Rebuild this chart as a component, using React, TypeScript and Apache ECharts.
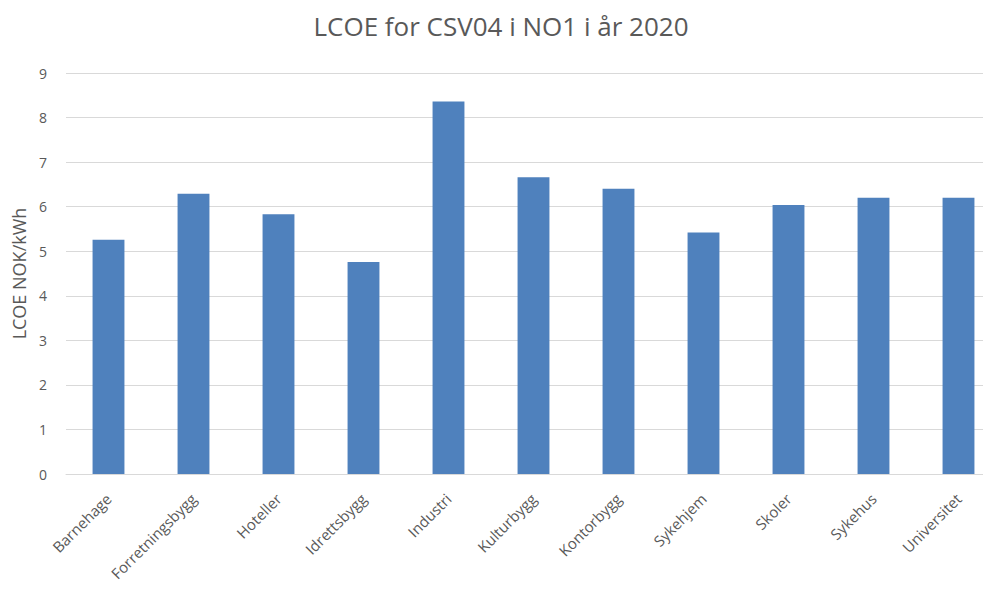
import React, { useEffect, useRef } from "react";
import * as echarts from "echarts";

const categories = [
  "Barnehage",
  "Forretningsbygg",
  "Hoteller",
  "Idrettsbygg",
  "Industri",
  "Kulturbygg",
  "Kontorbygg",
  "Sykehjem",
  "Skoler",
  "Sykehus",
  "Universitet",
];

const lcoeValues = [5.26, 6.29, 5.83, 4.76, 8.36, 6.66, 6.4, 5.42, 6.04, 6.2, 6.2];

const titleText = "LCOE for CSV04 i NO1 i år 2020";
const yAxisName = "LCOE NOK/kWh";

export default function App() {
  const ref = useRef<HTMLDivElement>(null);

  useEffect(() => {
    if (!ref.current) return;
    const chart = echarts.init(ref.current, undefined, { renderer: "svg" });
    const font = "'Open Sans', 'Noto Sans', sans-serif";
    chart.setOption({
      animation: false,
      backgroundColor: "#ffffff",
      title: {
        text: titleText,
        left: 496,
        textAlign: "center",
        top: 8,
        textStyle: {
          color: "#595959",
          fontSize: 26,
          fontWeight: "normal",
          fontFamily: font,
        },
      },
      grid: {
        left: 66,
        top: 73,
        width: 935,
        height: 401,
        outerBoundsMode: "none",
      },
      xAxis: {
        type: "category",
        data: categories,
        axisLine: { lineStyle: { color: "#d9d9d9", width: 1 } },
        axisTick: { show: false },
        axisLabel: {
          rotate: 45,
          align: "right",
          verticalAlign: "middle",
          color: "#595959",
          fontSize: 15,
          fontFamily: font,
          margin: 22,
        },
      },
      yAxis: {
        type: "value",
        min: 0,
        max: 9,
        interval: 1,
        name: yAxisName,
        nameLocation: "middle",
        nameGap: 37,
        nameTextStyle: { color: "#595959", fontSize: 18, fontFamily: font },
        axisLine: { show: false },
        axisTick: { show: false },
        axisLabel: { color: "#595959", fontSize: 14, fontFamily: font, margin: 19 },
        splitLine: { lineStyle: { color: "#d9d9d9", width: 1 } },
      },
      series: [
        {
          type: "bar",
          data: lcoeValues,
          barWidth: "37.5%",
          itemStyle: { color: "#4f81bd" },
        },
      ],
    });
    return () => chart.dispose();
  }, []);

  return <div ref={ref} style={{ width: 991, height: 590, margin: -8 }} />;
}
